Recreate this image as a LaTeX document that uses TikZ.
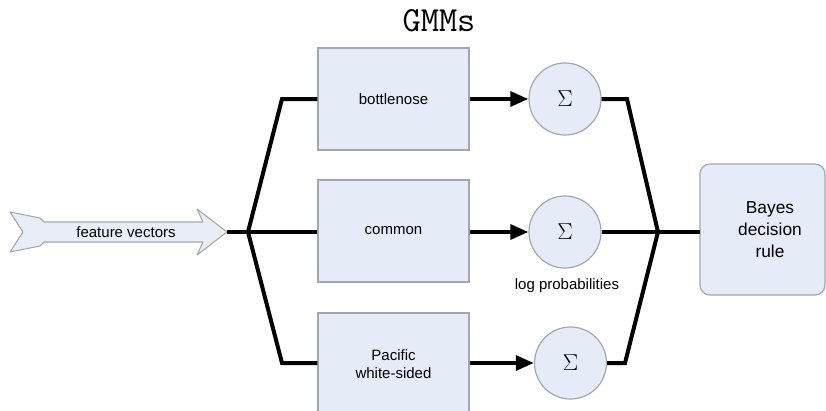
\documentclass[tikz,border=0pt]{standalone}
\usepackage{fontspec}
\setmainfont{Liberation Sans}
\newfontfamily\symfont{Liberation Serif}
\usetikzlibrary{arrows.meta}
\definecolor{boxfill}{HTML}{E6ECF7}
\definecolor{boxline}{HTML}{A3A6AC}
\definecolor{arrowfill}{HTML}{E8EEF8}
\tikzset{
  model/.style={draw=boxline, fill=boxfill, line width=0.9pt, rectangle,
    minimum width=113.25pt, minimum height=76.5pt, inner sep=0pt,
    align=center, font=\fontsize{11.25}{13.5}\selectfont},
  summer/.style={draw=boxline, fill=boxfill, line width=0.9pt, circle,
    minimum size=54pt, inner sep=0pt, font=\symfont\fontsize{18}{21}\selectfont},
  wire/.style={line width=3pt, line join=miter, draw=black},
  feed/.style={wire, -{Triangle[length=13.5pt, width=11pt]}},
  plain/.style={font=\fontsize{11.25}{13.5}\selectfont, inner sep=0pt}
}
\begin{document}
\begin{tikzpicture}[x=0.75pt, y=-0.75pt]
\useasboundingbox (0,0) rectangle (826,411);
\clip (0,0) rectangle (826,411);

% title
\node[font=\ttfamily\fontsize{26.5}{30}\selectfont] (title) at (439,21) {GMMs};

% input arrow
\draw[draw=boxline, fill=arrowfill, line width=0.8pt, line join=round]
  (10,212) -- (40,218) -- (44,222) -- (203,222) -- (197,209) -- (227,232)
  -- (197,255) -- (203,242) -- (44,242) -- (40,246) -- (10,252) -- (23,232) -- cycle;
\node[plain] (fv) at (126,232) {feature vectors};
\coordinate (fvtip) at (227,232);
\coordinate (lj) at (248,232);

% models
\node[model] (m1) at (393.5,99) {bottlenose};
\node[model] (m2) at (393.5,231) {common};
\node[model] (m3) at (393.5,364) {Pacific\\white-sided};

% summation nodes
\node[summer] (s1) at (565,99) {$\Sigma$};
\node[summer] (s2) at (565,232) {$\Sigma$};
\node[summer] (s3) at (570.5,363) {$\Sigma$};
\node[plain] (lp) at (567,286) {log probabilities};

% decision box
\draw[draw=boxline, fill=boxfill, line width=0.9pt, rounded corners=7.5pt]
  (700,164) rectangle (825,295);
\coordinate (bayesin) at (700,232);
\node[plain, align=center, font=\fontsize{13}{16.5}\selectfont] (bayes) at (770,230) {Bayes\\decision\\rule};

% fan-out
\draw[wire] (fvtip) -- (lj);
\draw[wire] (lj) -- (282,99) -- (m1.west |- 0,99);
\draw[wire] (lj) -- (m2.west |- lj);
\draw[wire] (lj) -- (282,363) -- (m3.west |- 0,363);

% model outputs
\draw[feed] (m1.east |- s1) -- (s1.west);
\draw[feed] (m2.east |- s2) -- (s2.west);
\draw[feed] (m3.east |- s3) -- (s3.west);

% fan-in
\coordinate (rj) at (658,232);
\draw[wire] (s1.east) -- (627,99) -- (rj);
\draw[wire] (s2.east) -- (rj) -- (bayesin);
\draw[wire] (s3.east) -- (625,363) -- (rj);
\end{tikzpicture}
\end{document}
